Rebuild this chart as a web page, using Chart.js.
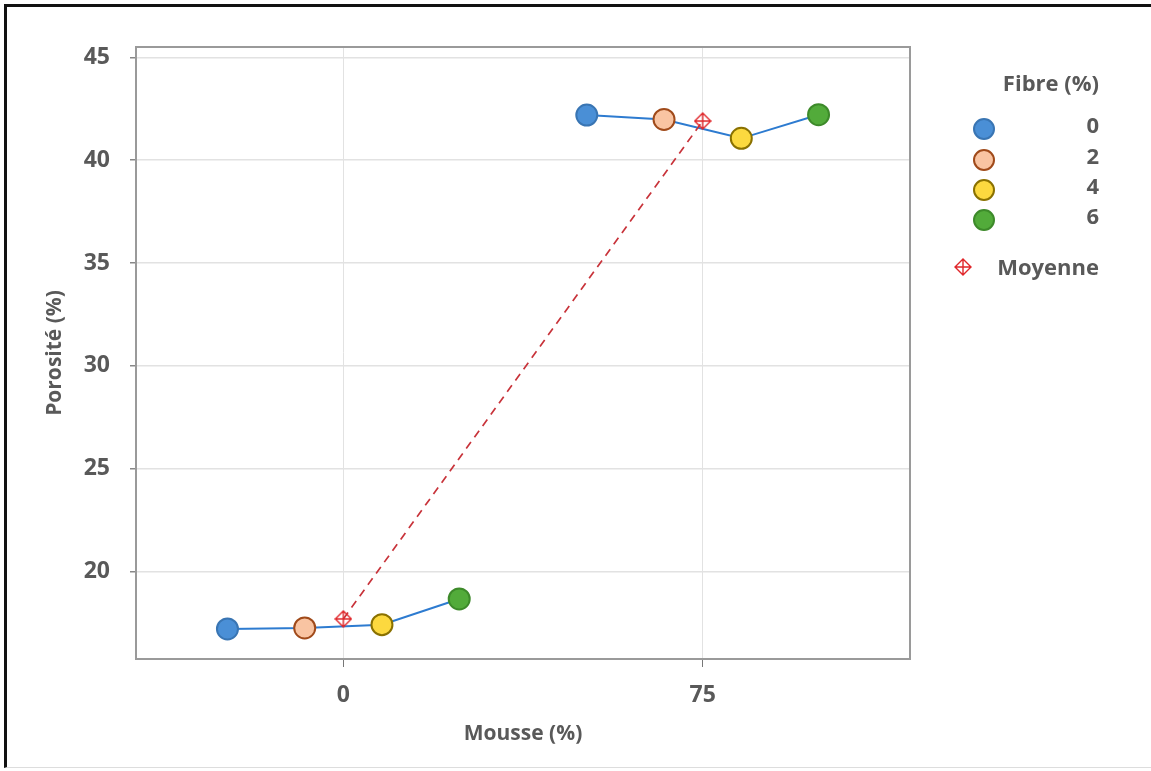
<!DOCTYPE html>
<html>
<head>
<meta charset="utf-8">
<script src="https://cdn.jsdelivr.net/npm/chart.js@4"></script>
<style>
  html, body { margin: 0; padding: 0; background: #fff; }
  #wrap { position: relative; width: 1151px; height: 771px; overflow: hidden; font-family: "Open Sans", sans-serif; }
  #frame { position: absolute; left: 4px; top: 4px; right: -10px; bottom: 3px;
           border-left: 3px solid #111; border-top: 3px solid #111; border-bottom: 1px solid #ddd; }
  #porosity-chart { position: absolute; left: 0; top: 0; }
  .leg { position: absolute; color: #595959; font-weight: 700; font-size: 22px; }
  .leg-title { left: 960px; top: 67px; width: 139px; text-align: right; }
  .leg-row { position: absolute; left: 972px; width: 127px; height: 26px; }
  .leg-dot { position: absolute; left: 1px; top: 2px; width: 18px; height: 18px; border-radius: 50%; border: 2px solid; }
  .leg-lab { position: absolute; right: 0; top: -7px; }
</style>
</head>
<body>
<div id="wrap">
  <div id="frame"></div>
  <canvas id="porosity-chart" width="1151" height="771"></canvas>
  <div class="leg leg-title">Fibre (%)</div>
  <div id="legend-rows"></div>
</div>
<script>
// categories
var mousseLabels = ['0', '75'];
var fibreLabels = ['0', '2', '4', '6'];
// porosity (%) per fibre level, at mousse 0 and 75
var fibre0 = [17.21, 42.19];
var fibre2 = [17.26, 41.98];
var fibre4 = [17.42, 41.06];
var fibre6 = [18.67, 42.21];
var moyenne = [17.70, 41.90];
var yTicks = [20, 25, 30, 35, 40, 45];

var fibreSeries = [fibre0, fibre2, fibre4, fibre6];
var fills = ['#4a8fd6', '#f9c4a2', '#fcd93f', '#52ab3a'];
var borders = ['#3975b3', '#a04a1a', '#8a7100', '#3d8a2a'];
var textColor = '#595959';
var tickFont = { family: 'Open Sans', size: 23, weight: '700' };
var titleFont = { family: 'Open Sans', size: 21, weight: '700' };

// mean marker: diamond with cross
function makeMeanMarker() {
    var c = document.createElement('canvas');
    c.width = 18; c.height = 18;
    var g = c.getContext('2d');
    g.strokeStyle = '#e0262a';
    g.lineWidth = 1.4;
    g.beginPath();
    g.moveTo(9, 1); g.lineTo(17, 9); g.lineTo(9, 17); g.lineTo(1, 9); g.closePath();
    g.moveTo(9, 1); g.lineTo(9, 17);
    g.moveTo(1, 9); g.lineTo(17, 9);
    g.stroke();
    return c;
}
var meanMarker = makeMeanMarker();

function dodge(i) { return (i - 1.5) * 0.215; }

var datasets = [];
// points per fibre level
fibreSeries.forEach(function(vals, i) {
    datasets.push({
        label: fibreLabels[i],
        data: vals.map(function(v, k) { return {x: k + dodge(i), y: v}; }),
        backgroundColor: fills[i],
        borderColor: borders[i],
        borderWidth: 2,
        pointRadius: 10.5,
        showLine: false,
        order: 1
    });
});
// connecting lines within each mousse group
mousseLabels.forEach(function(m, k) {
    datasets.push({
        label: 'line ' + m,
        data: fibreSeries.map(function(vals, i) { return {x: k + dodge(i), y: vals[k]}; }),
        borderColor: '#2d7bd0',
        borderWidth: 2,
        pointRadius: 0,
        showLine: true,
        order: 3
    });
});
// mean line
datasets.push({
    label: 'Moyenne',
    data: moyenne.map(function(v, k) { return {x: k, y: v}; }),
    borderColor: '#c8333a',
    borderWidth: 1.7,
    borderDash: [8, 6],
    pointStyle: meanMarker,
    pointRadius: 9,
    showLine: true,
    order: 2
});

var plotBox = {
    id: 'plotBox',
    beforeDatasetsDraw: function(chart) {
        var a = chart.chartArea, ctx = chart.ctx;
        ctx.save();
        ctx.strokeStyle = '#9a9a9a';
        ctx.lineWidth = 2;
        ctx.strokeRect(a.left, a.top, a.right - a.left, a.bottom - a.top);
        ctx.restore();
    }
};

var ctx = document.getElementById('porosity-chart').getContext('2d');
var chart = new Chart(ctx, {
    type: 'scatter',
    data: { datasets: datasets },
    plugins: [plotBox],
    options: {
        responsive: false,
        animation: false,
        layout: { padding: { left: 20, top: 47, right: 241, bottom: 22 } },
        plugins: { legend: { display: false }, tooltip: { enabled: false } },
        scales: {
            x: {
                type: 'linear',
                min: -0.577,
                max: 1.577,
                afterBuildTicks: function(s) { s.ticks = mousseLabels.map(function(m, k) { return {value: k}; }); },
                afterFit: function(s) { s.height = 90; },
                ticks: {
                    callback: function(v) { return mousseLabels[v]; },
                    color: textColor,
                    font: tickFont,
                    padding: 15,
                    maxRotation: 0
                },
                grid: { color: '#e2e2e2', tickColor: '#777', tickLength: 8, lineWidth: 1 },
                border: { color: '#9a9a9a', width: 2 },
                title: {
                    display: true,
                    text: 'Mousse (%)',
                    color: textColor,
                    font: titleFont,
                    padding: { top: 0, bottom: 2 }
                }
            },
            y: {
                min: 15.75,
                max: 45.5,
                afterBuildTicks: function(s) { s.ticks = yTicks.map(function(v) { return {value: v}; }); },
                afterFit: function(s) { s.width = 116; },
                ticks: {
                    color: textColor,
                    font: tickFont,
                    padding: 20
                },
                grid: { color: '#e2e2e2', tickColor: '#888', tickLength: 6, lineWidth: 1.5 },
                border: { color: '#9a9a9a', width: 2 },
                title: {
                    display: true,
                    text: 'Porosité (%)',
                    color: textColor,
                    font: titleFont,
                    padding: { top: 22, bottom: 0 }
                }
            }
        }
    }
});

// legend on the right
var rows = document.getElementById('legend-rows');
var rowTops = [116, 147, 177, 207];
fibreLabels.forEach(function(f, i) {
    var r = document.createElement('div');
    r.className = 'leg leg-row';
    r.style.top = rowTops[i] + 'px';
    r.innerHTML = '<div class="leg-dot" style="background:' + fills[i] + ';border-color:' + borders[i] + '"></div>' +
                  '<div class="leg-lab">' + f + '</div>';
    rows.appendChild(r);
});
var mr = document.createElement('div');
mr.className = 'leg leg-row';
mr.style.top = '258px';
mr.style.left = '954px';
mr.style.width = '145px';
var mc = document.createElement('canvas');
mc.width = 18; mc.height = 18;
mc.style.position = 'absolute';
mc.style.left = '0px';
mc.style.top = '0px';
mc.getContext('2d').drawImage(meanMarker, 0, 0);
mr.appendChild(mc);
var ml = document.createElement('div');
ml.className = 'leg-lab';
ml.textContent = 'Moyenne';
mr.appendChild(ml);
rows.appendChild(mr);
</script>
</body>
</html>
